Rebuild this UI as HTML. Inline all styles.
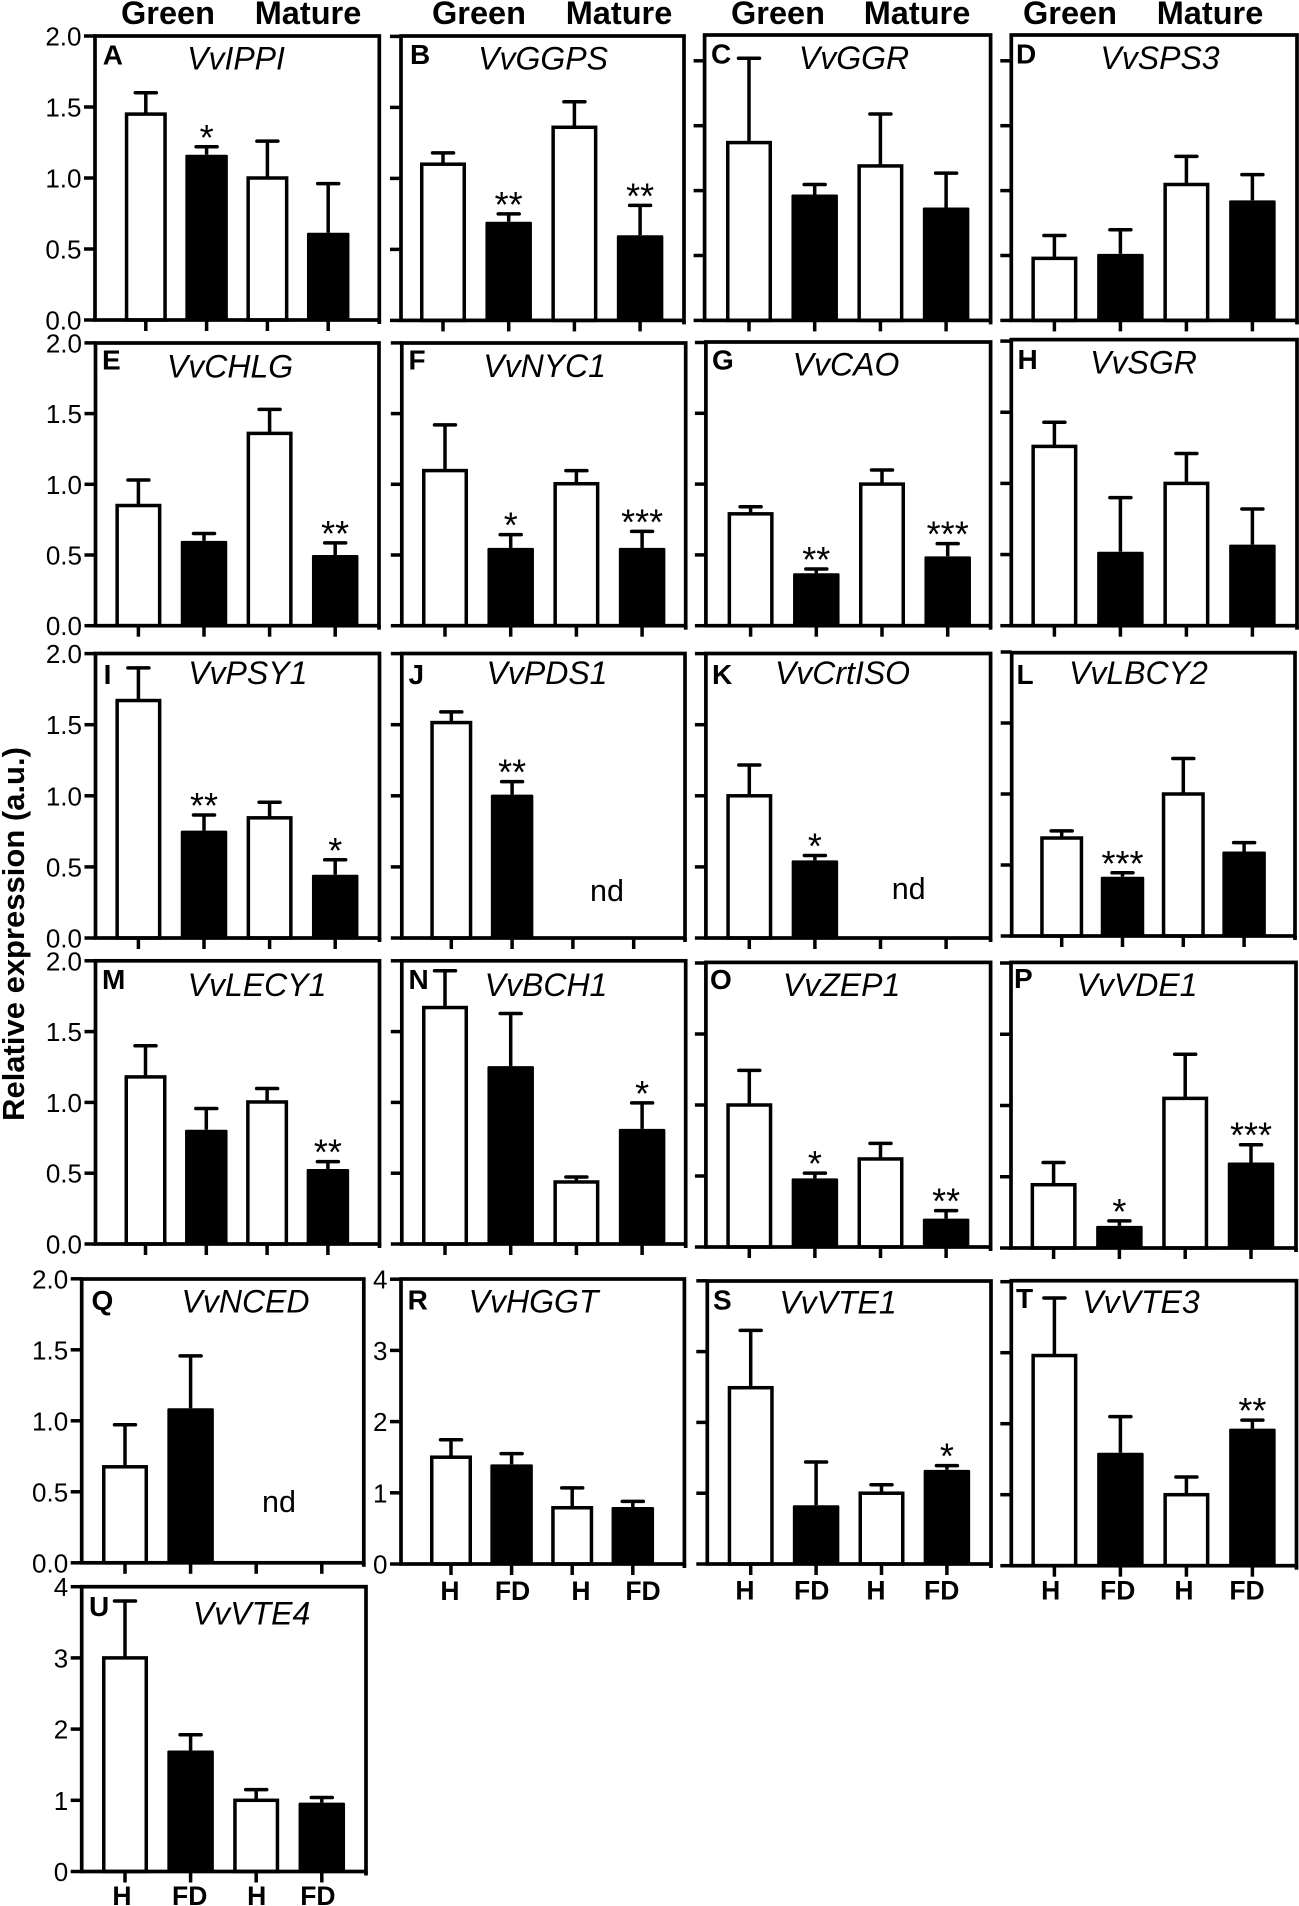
<!DOCTYPE html>
<html lang="en">
<head>
<meta charset="utf-8">
<title>Relative expression of carotenoid and tocopherol genes</title>
<style>
html,body{margin:0;padding:0;background:#fff;}
svg{display:block;}
text{font-family:"Liberation Sans",sans-serif;fill:#000;}
</style>
</head>
<body>
<svg id="figure" xmlns="http://www.w3.org/2000/svg" width="1299" height="1906" viewBox="0 0 1299 1906">
  <rect x="0" y="0" width="1299" height="1906" fill="#fff"/>
  <text transform="translate(24,934) rotate(-90)" text-anchor="middle" font-size="31" font-weight="700">Relative expression (a.u.)</text>
  <text x="168" y="24" text-anchor="middle" font-size="32.5" font-weight="700">Green</text>
  <text x="308" y="24" text-anchor="middle" font-size="32.5" font-weight="700">Mature</text>
  <text x="479" y="24" text-anchor="middle" font-size="32.5" font-weight="700">Green</text>
  <text x="619" y="24" text-anchor="middle" font-size="32.5" font-weight="700">Mature</text>
  <text x="778" y="24" text-anchor="middle" font-size="32.5" font-weight="700">Green</text>
  <text x="917" y="24" text-anchor="middle" font-size="32.5" font-weight="700">Mature</text>
  <text x="1070" y="24" text-anchor="middle" font-size="32.5" font-weight="700">Green</text>
  <text x="1210" y="24" text-anchor="middle" font-size="32.5" font-weight="700">Mature</text>
</svg>
<script>
const panelLetters = ['A','B','C','D','E','F','G','H','I','J','K','L','M','N','O','P','Q','R','S','T','U'];
const geneNames = ['VvIPPI','VvGGPS','VvGGR','VvSPS3','VvCHLG','VvNYC1','VvCAO','VvSGR','VvPSY1','VvPDS1','VvCrtISO','VvLBCY2','VvLECY1','VvBCH1','VvZEP1','VvVDE1','VvNCED','VvHGGT','VvVTE1','VvVTE3','VvVTE4'];
const barValues = [
  [1.45,1.164,1.0,0.614],
  [1.10,0.695,1.36,0.60],
  [1.37,0.97,1.19,0.87],
  [0.478,0.513,1.047,0.925],
  [0.85,0.60,1.36,0.50],
  [1.097,0.55,1.004,0.55],
  [0.79,0.37,1.0,0.49],
  [1.26,0.52,1.0,0.57],
  [1.67,0.755,0.845,0.445],
  [1.515,1.008,null,null],
  [1.0,0.546,null,null],
  [0.69,0.417,1.0,0.595],
  [1.18,0.807,1.003,0.53],
  [1.67,1.256,0.438,0.813],
  [1.0,0.483,0.62,0.20],
  [0.444,0.155,1.05,0.60],
  [0.676,1.088,null,null],
  [1.5,1.4,0.79,0.80],
  [2.49,0.83,1.0,1.33],
  [2.96,1.59,1.0,1.93],
  [3.0,1.70,1.0,0.967]
];
const errorTops = [
  [1.60,1.22,1.26,0.96],
  [1.18,0.75,1.54,0.81],
  [2.02,1.047,1.59,1.135],
  [0.654,0.698,1.264,1.123],
  [1.03,0.652,1.53,0.586],
  [1.42,0.644,1.097,0.667],
  [0.84,0.40,1.10,0.58],
  [1.43,0.90,1.21,0.82],
  [1.90,0.865,0.955,0.55],
  [1.59,1.10,null,null],
  [1.217,0.58,null,null],
  [0.74,0.445,1.25,0.658],
  [1.40,0.957,1.098,0.582],
  [1.93,1.628,0.473,0.997],
  [1.244,0.52,0.73,0.256],
  [0.60,0.19,1.36,0.725],
  [0.972,1.457,null,null],
  [1.745,1.55,1.07,0.88],
  [3.3,1.44,1.12,1.39],
  [3.77,2.1,1.25,2.05],
  [3.8,1.92,1.15,1.04]
];
const significance = [
  ['','*','',''],
  ['','**','','**'],
  ['','','',''],
  ['','','',''],
  ['','','','**'],
  ['','*','','***'],
  ['','**','','***'],
  ['','','',''],
  ['','**','','*'],
  ['','**','',''],
  ['','*','',''],
  ['','***','',''],
  ['','','','**'],
  ['','','','*'],
  ['','*','','**'],
  ['','*','','***'],
  ['','','',''],
  ['','','',''],
  ['','','','*'],
  ['','','','**'],
  ['','','','']
];
const ratioTicks = ['0.0','0.5','1.0','1.5','2.0'];
const tenfoldTicks = ['0','1','2','3','4'];
const treatmentLabels = ['H','FD','H','FD'];
const notDetectedLabel = 'nd';

const svgNS = 'http://www.w3.org/2000/svg';
const figure = document.getElementById('figure');
const lineWeight = 3.5;

function add(tag, attrs, parent, content) {
  const node = document.createElementNS(svgNS, tag);
  for (const key in attrs) node.setAttribute(key, attrs[key]);
  if (content !== undefined) node.textContent = content;
  parent.appendChild(node);
  return node;
}

function drawPanel(i, g) {
  const yOf = v => g.b - v * g.unit;
  const xOf = k => g.x0 + k * g.dx;
  const panel = add('g', {}, figure);
  
  

  const ticks = g.ticks || ratioTicks;
  ticks.forEach(label => {
    const y = yOf(Number(label));
    const tick = add('line', {x1: g.l - 11, x2: g.l, y1: y, y2: y, stroke: '#000', 'stroke-width': lineWeight}, panel);
    
    
    if (g.labels) {
      const text = add('text', {x: g.l - 13.5, y: y + 9.5, 'text-anchor': 'end', 'font-size': 26}, panel, label);
      
      
    }
  });

  barValues[i].forEach((value, k) => {
    const x = xOf(k);
    const tick = add('line', {x1: x, x2: x, y1: g.b, y2: g.b + 11, stroke: '#000', 'stroke-width': lineWeight}, panel);
    
    
    if (value === null) return;
    const top = errorTops[i][k];
    const stem = add('line', {x1: x, x2: x, y1: yOf(value), y2: yOf(top), stroke: '#000', 'stroke-width': lineWeight}, panel);
    
    
    const cap = add('line', {x1: x - 10.5, x2: x + 10.5, y1: yOf(top), y2: yOf(top), stroke: '#000', 'stroke-width': lineWeight, 'stroke-linecap': 'round'}, panel);
    
    
    const filled = k % 2 === 1;
    const bar = filled
      ? add('rect', {x: x - (g.w + 0.5) / 2, y: yOf(value), width: g.w + 0.5, height: value * g.unit, rx: 1.2, fill: '#000'}, panel)
      : add('rect', {x: x - (g.w - lineWeight) / 2, y: yOf(value), width: g.w - lineWeight, height: value * g.unit, fill: '#fff', stroke: '#000', 'stroke-width': lineWeight}, panel);
    
    
    const stars = significance[i][k];
    if (stars) {
      const mark = add('text', {x: x, y: yOf(top) + 3, 'text-anchor': 'middle', 'font-size': 36}, panel, stars);
      
      
    }
  });

  const frame = add('rect', {x: g.l, y: g.t, width: g.r - g.l, height: g.b - g.t, fill: 'none', stroke: '#000', 'stroke-width': 3.7}, panel);
  
  
  const corner = add('line', {x1: g.r, x2: g.r, y1: g.b, y2: g.b + 4, stroke: '#000', 'stroke-width': 3.7}, panel);
  
  

  const letter = add('text', {x: g.lx, y: g.ly, 'font-size': 28, 'font-weight': 700}, panel, panelLetters[i]);
  
  
  const title = add('text', {x: g.tx, y: g.ty, 'text-anchor': 'middle', 'font-size': 32, 'font-style': 'italic'}, panel, geneNames[i]);
  
  

  if (g.nd) {
    const nd = add('text', {x: g.nd[0], y: g.nd[1], 'text-anchor': 'middle', 'font-size': 30.5}, panel, notDetectedLabel);
    
    
  }
  if (g.lab) {
    treatmentLabels.forEach((label, k) => {
      const text = add('text', {x: g.lab[k], y: g.laby, 'text-anchor': 'middle', 'font-size': 26.5, 'font-weight': 700}, panel, label);
      
      
    });
  }
}

drawPanel(0,  {l:95,t:36,r:379.3,b:320,x0:145.8,dx:60.8,w:42,unit:142,labels:true,lx:102.7,ly:64.5,tx:236,ty:69.5});
drawPanel(1,  {l:401,t:36,r:684,b:320.4,x0:443,dx:65.7,w:46,unit:142,lx:410,ly:64,tx:543,ty:69.5});
drawPanel(2,  {l:704.6,t:35,r:990.6,b:320.4,x0:749,dx:65.7,w:46,unit:129.8,lx:711,ly:63.7,tx:854,ty:69});
drawPanel(3,  {l:1011.3,t:35,r:1297,b:320.4,x0:1054.4,dx:66,w:46,unit:129.8,lx:1016,ly:63.7,tx:1160,ty:69});
drawPanel(4,  {l:95.5,t:343,r:379,b:625.7,x0:138.4,dx:65.6,w:46,unit:141.4,labels:true,lx:102,ly:369.4,tx:230,ty:377.5});
drawPanel(5,  {l:401.8,t:343,r:685.7,b:625.7,x0:445,dx:65.7,w:46,unit:141.4,lx:408.5,ly:369.4,tx:544.6,ty:377});
drawPanel(6,  {l:705.9,t:342,r:990.6,b:625.7,x0:750.6,dx:65.7,w:46,unit:141.6,lx:712,ly:369.4,tx:846,ty:375.5});
drawPanel(7,  {l:1011.3,t:339.6,r:1297,b:625.7,x0:1054.4,dx:66,w:46,unit:142.3,lx:1017.5,ly:369,tx:1143.5,ty:373.5});
drawPanel(8,  {l:95.5,t:653.5,r:379.5,b:938,x0:138.4,dx:65.6,w:46,unit:142.2,labels:true,lx:103.6,ly:684,tx:247.8,ty:684});
drawPanel(9,  {l:401.8,t:653.5,r:685,b:938,x0:451.3,dx:60.8,w:42,unit:142.2,lx:408.5,ly:684,tx:547,ty:684,nd:[607,901]});
drawPanel(10, {l:705.9,t:653.5,r:990.6,b:938,x0:749.3,dx:65.6,w:46,unit:142.2,lx:712,ly:684,tx:842.5,ty:684,nd:[908.7,899]});
drawPanel(11, {l:1011.7,t:652.7,r:1295,b:936,x0:1061.7,dx:60.8,w:43,unit:142,lx:1016.5,ly:684,tx:1138.4,ty:684});
drawPanel(12, {l:95.5,t:960.8,r:379.5,b:1244,x0:145.5,dx:60.8,w:42,unit:141.6,labels:true,lx:102,ly:989,tx:257,ty:996});
drawPanel(13, {l:401.8,t:960.8,r:685.7,b:1244,x0:445,dx:65.7,w:46,unit:141.6,lx:408.5,ly:989,tx:546,ty:996});
drawPanel(14, {l:705.9,t:962.4,r:990.6,b:1247,x0:749.3,dx:65.6,w:46,unit:142,lx:710,ly:989,tx:841.6,ty:996});
drawPanel(15, {l:1011,t:962.4,r:1296,b:1248,x0:1053.6,dx:65.8,w:46,unit:142.5,lx:1014,ly:988,tx:1137,ty:996});
drawPanel(16, {l:81.7,t:1279,r:363.8,b:1562.8,x0:125,dx:65.6,w:46,unit:142,labels:true,lx:91.5,ly:1310,tx:245.5,ty:1312.7,nd:[279,1512]});
drawPanel(17, {l:401,t:1279,r:684.4,b:1564,x0:451,dx:60.6,w:42,unit:71.2,ticks:tenfoldTicks,labels:true,lx:407.6,ly:1309.4,tx:533.5,ty:1312.7,lab:[450,512.5,581,643],laby:1600});
drawPanel(18, {l:707.3,t:1281,r:991,b:1564,x0:750.7,dx:65.4,w:46,unit:70.8,ticks:tenfoldTicks,lx:713,ly:1309.5,tx:838,ty:1313.3,lab:[745,811.7,876,941.7],laby:1599.5});
drawPanel(19, {l:1011.3,t:1280.7,r:1296.5,b:1565.7,x0:1054.4,dx:66,w:46,unit:71,ticks:tenfoldTicks,lx:1016,ly:1308,tx:1141,ty:1313,lab:[1050.7,1117.7,1184,1247],laby:1599.5});
drawPanel(20, {l:81.7,t:1586.7,r:366,b:1871.5,x0:125,dx:65.6,w:46,unit:71.2,ticks:tenfoldTicks,labels:true,lx:89,ly:1616,tx:251.6,ty:1624.6,lab:[122,189.7,256.7,317.9],laby:1905});
</script>
</body>
</html>
